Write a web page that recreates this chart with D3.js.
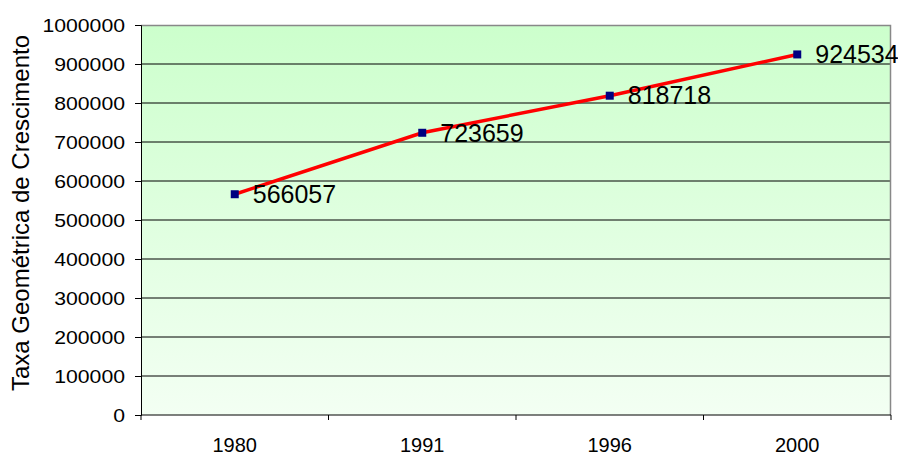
<!DOCTYPE html>
<html>
<head>
<meta charset="utf-8">
<script src="https://cdn.jsdelivr.net/npm/d3@7"></script>
<style>
  body { margin: 0; background: #fff; }
  text { font-family: "Liberation Sans", Arial, sans-serif; fill: #000; }
</style>
</head>
<body>
<div id="chart"></div>
<script>
// Chart data
const years = ["1980", "1991", "1996", "2000"];
const values = [566057, 723659, 818718, 924534];
const yTicks = [0, 100000, 200000, 300000, 400000, 500000, 600000, 700000, 800000, 900000, 1000000];
const yTitle = "Taxa Geométrica de Crescimento";

const W = 898, H = 455;
const margin = { top: 25, right: 7, bottom: 40, left: 141 };
const width = W - margin.left - margin.right;
const height = H - margin.top - margin.bottom;

const svg = d3.select("#chart").append("svg")
  .attr("width", W)
  .attr("height", H);

// background gradient for plot area
const grad = svg.append("defs").append("linearGradient")
  .attr("id", "bg")
  .attr("x1", 0).attr("y1", 0).attr("x2", 0).attr("y2", 1);
grad.append("stop").attr("offset", "0%").attr("stop-color", "#ccffcc");
grad.append("stop").attr("offset", "100%").attr("stop-color", "#f3fff3");

const g = svg.append("g")
  .attr("transform", `translate(${margin.left},${margin.top})`);

const x = d3.scaleBand().domain(years).range([0, width]);
const y = d3.scaleLinear().domain([0, 1000000]).range([height, 0]);

g.append("rect")
  .attr("width", width)
  .attr("height", height)
  .attr("fill", "url(#bg)");

// grid lines
g.selectAll(".grid")
  .data(yTicks.filter(d => d > 0 && d < 1000000))
  .enter().append("line")
  .attr("x1", 0).attr("x2", width)
  .attr("y1", d => y(d)).attr("y2", d => y(d))
  .attr("stroke", "#000")
  .attr("stroke-width", 1);

// top and right border (grey)
g.append("path")
  .attr("d", `M0,0.5H${width - 0.5}V${height}`)
  .attr("fill", "none")
  .attr("stroke", "#888")
  .attr("stroke-width", 1.5);

// y axis (labels are a bit wide in the original, stretch them)
const yAxis = g.append("g")
  .call(d3.axisLeft(y).tickValues(yTicks).tickSize(6).tickPadding(10).tickFormat(d3.format("d")));
yAxis.select(".domain").attr("stroke", "#000");
yAxis.selectAll("text")
  .style("font-size", "19px")
  .attr("textLength", d => String(d).length * 11.8)
  .attr("lengthAdjust", "spacingAndGlyphs");

// x axis: labels centred in bands, ticks at band edges
const xAxis = g.append("g")
  .attr("transform", `translate(0,${height})`)
  .call(d3.axisBottom(x).tickSize(0).tickPadding(23));
xAxis.select(".domain").remove();
xAxis.selectAll("text").style("font-size", "20px");

g.append("line")
  .attr("x1", 0).attr("x2", width)
  .attr("y1", height).attr("y2", height)
  .attr("stroke", "#000");

g.selectAll(".xtick")
  .data(years.map(d => x(d)).concat([width]))
  .enter().append("line")
  .attr("x1", d => d).attr("x2", d => d)
  .attr("y1", height).attr("y2", height + 5)
  .attr("stroke", "#000");

// line
const pts = years.map((d, i) => ({ year: d, value: values[i] }));
const line = d3.line()
  .x(d => x(d.year) + x.bandwidth() / 2)
  .y(d => y(d.value));

g.append("path")
  .datum(pts)
  .attr("fill", "none")
  .attr("stroke", "#ff0000")
  .attr("stroke-width", 3.5)
  .attr("d", line);

// markers
g.selectAll(".mark")
  .data(pts)
  .enter().append("rect")
  .attr("x", d => x(d.year) + x.bandwidth() / 2 - 4)
  .attr("y", d => y(d.value) - 4)
  .attr("width", 8)
  .attr("height", 8)
  .attr("fill", "#000080");

// value labels
g.selectAll(".lbl")
  .data(pts)
  .enter().append("text")
  .attr("x", d => x(d.year) + x.bandwidth() / 2 + 18)
  .attr("y", d => y(d.value))
  .attr("dy", "0.35em")
  .style("font-size", "25px")
  .text(d => d.value);

// y axis title
svg.append("text")
  .attr("transform", `translate(29,213) rotate(-90)`)
  .attr("text-anchor", "middle")
  .style("font-size", "24px")
  .text(yTitle);
</script>
</body>
</html>
